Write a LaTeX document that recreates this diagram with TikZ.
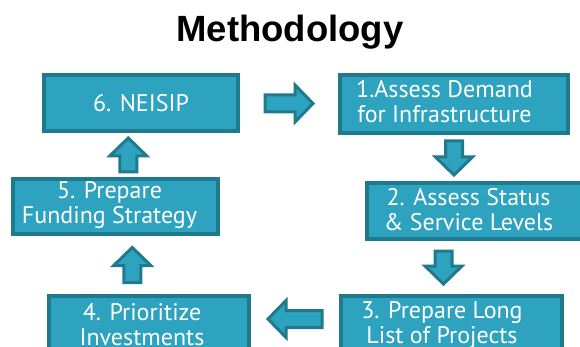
\documentclass[tikz,border=0pt]{standalone}
\usepackage{fontspec}
\setmainfont{PT Sans}
\newfontfamily\titlefont{Liberation Sans}
\usepackage{xcolor}
\usepackage{tikz}
\usetikzlibrary{calc}
\definecolor{boxfill}{HTML}{2EA3BF}
\definecolor{boxedge}{HTML}{1F7A8D}

\tikzset{
  blockarr/.pic={
    \draw[draw=boxedge, fill=boxfill, line width=3pt, line join=miter]
      (-#1/2,-8.5) -- (#1/2-18,-8.5) -- (#1/2-18,-18.5) -- (#1/2,0)
      -- (#1/2-18,18.5) -- (#1/2-18,8.5) -- (-#1/2,8.5) -- cycle;
  }
}

\begin{document}
\begin{tikzpicture}[
  x=1pt, y=-1pt,
  steptext/.style={text=white, align=center, inner sep=0pt, font=\fontsize{24}{25}\selectfont},
  stepbox/.style={draw=boxedge, fill=boxfill, line width=4pt, minimum height=56pt, steptext}
]
  \useasboundingbox (0,0) rectangle (580,347);
  \node[anchor=base, font=\titlefont\bfseries\fontsize{36.5}{40}\selectfont] (title) at (290,42) {Methodology};
  \node[stepbox, minimum width=194pt] (b6) at (141,103) {6. NEISIP};
  \node[stepbox, minimum width=228pt, minimum height=58pt,
    label={[steptext, xshift=-9.5pt, yshift=2pt]center:{1.Assess Demand\\for Infrastructure}}] (b1) at (454,104) {};
  \node[stepbox, minimum width=221pt,
    label={[steptext, xshift=-9pt, yshift=1pt]center:{2. Assess Status\\\& Service Levels}}] (b2) at (477.5,211) {};
  \node[stepbox, minimum width=221pt,
    label={[steptext, xshift=-9.5pt, yshift=-1pt]center:{3. Prepare Long\\List of Projects}}] (b3) at (451.5,324) {};
  \node[stepbox, minimum width=200pt,
    label={[steptext, xshift=-7pt, yshift=-1pt]center:{4. Prioritize\\Investments}}] (b4) at (149,324) {};
  \node[stepbox, minimum width=205pt, minimum height=55pt,
    label={[steptext, xshift=-6pt, yshift=1pt]center:{5. Prepare\\Funding Strategy}}] (b5) at (115.5,206.5) {};
  \pic (a61) at ($(b6.east)!0.5!(b1.west)$) {blockarr=48};
  \pic[rotate=-90] (a12) at ($(b1.south)!0.5!(b1.south |- b2.north)$) {blockarr=34};
  \pic[rotate=-90] (a23) at ($(b3.north |- b2.south)!0.5!(b3.north) + (-8,0)$) {blockarr=33};
  \pic[rotate=180] (a34) at ($(b3.west)!0.5!(b4.east) + (0,-5)$) {blockarr=54};
  \pic[rotate=90] (a45) at ($(b4.north)!0.5!(b5.south)$) {blockarr=35};
  \pic[rotate=90] (a56) at ($(b5.north)!0.5!(b6.south)$) {blockarr=34};
\end{tikzpicture}
\end{document}
